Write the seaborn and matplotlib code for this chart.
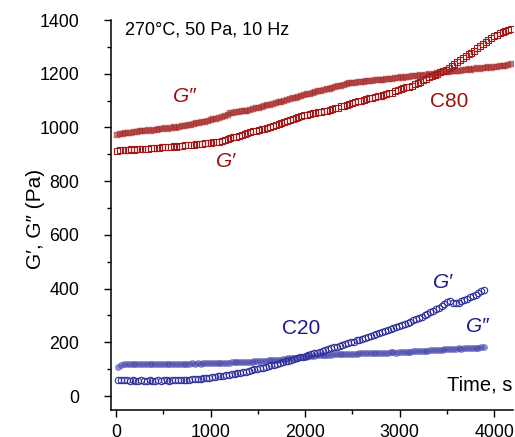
import numpy as np
import pandas as pd
import matplotlib
matplotlib.use('Agg')
import matplotlib.pyplot as plt
from matplotlib.ticker import MultipleLocator
import seaborn as sns

# ── data (Pa vs time, s) ───────────────────────────────────────────────────
time_c80 = np.arange(10, 4181, 30)   # sampling grid, C80
time_c20 = np.arange(25, 3896, 30)   # sampling grid, C20

c80_g2 = [  # G'' (filled squares)
    972, 976, 974, 978, 980, 979, 983, 982, 985, 987,
    986, 990, 988, 992, 991, 994, 993, 997, 995, 998,
    1000, 999, 1003, 1005, 1004, 1008, 1010, 1012, 1015, 1017,
    1019, 1022, 1024, 1027, 1030, 1033, 1036, 1040, 1044, 1048,
    1052, 1055, 1056, 1058, 1060, 1062, 1063, 1066, 1069, 1072,
    1074, 1077, 1079, 1082, 1084, 1088, 1090, 1093, 1095, 1099,
    1102, 1105, 1108, 1110, 1114, 1117, 1120, 1123, 1126, 1129,
    1132, 1135, 1137, 1140, 1142, 1145, 1148, 1150, 1153, 1156,
    1159, 1162, 1164, 1166, 1165, 1168, 1170, 1169, 1172, 1174,
    1173, 1176, 1175, 1178, 1177, 1180, 1179, 1182, 1184, 1183,
    1186, 1185, 1188, 1187, 1190, 1192, 1191, 1194, 1193, 1196,
    1198, 1197, 1200, 1202, 1204, 1206, 1205, 1208, 1210, 1209,
    1212, 1211, 1214, 1213, 1216, 1215, 1218, 1220, 1219, 1222,
    1221, 1224, 1223, 1226, 1225, 1228, 1230, 1229, 1232, 1235,
]
c80_g1 = [  # G' (open squares)
    914, 916, 915, 917, 916, 918, 917, 919, 920, 919,
    921, 920, 922, 924, 923, 925, 926, 928, 927, 929,
    930, 929, 932, 931, 933, 935, 934, 936, 938, 940,
    939, 941, 943, 942, 945, 947, 946, 950, 953, 956,
    960, 963, 965, 968, 971, 974, 978, 982, 985, 988,
    991, 994, 996, 999, 1003, 1006, 1010, 1014, 1018, 1022,
    1025, 1029, 1033, 1036, 1040, 1043, 1045, 1047, 1050, 1052,
    1054, 1056, 1059, 1061, 1063, 1065, 1068, 1071, 1074, 1078,
    1081, 1085, 1088, 1092, 1095, 1098, 1100, 1103, 1105, 1108,
    1111, 1113, 1116, 1118, 1121, 1124, 1127, 1130, 1134, 1138,
    1142, 1146, 1149, 1152, 1156, 1160, 1165, 1170, 1176, 1182,
    1187, 1192, 1196, 1200, 1205, 1210, 1215, 1222, 1230, 1238,
    1245, 1252, 1258, 1265, 1272, 1279, 1286, 1294, 1303, 1312,
    1320, 1327, 1333, 1339, 1345, 1350, 1355, 1359, 1364, 1368,
]
c20_g2 = [  # G'' (filled circles)
    108, 117, 119, 120, 119, 120, 119, 120, 120, 119,
    120, 119, 120, 120, 119, 120, 121, 120, 120, 121,
    120, 121, 121, 120, 121, 121, 122, 121, 122, 121,
    122, 122, 123, 122, 123, 123, 124, 123, 124, 124,
    125, 125, 126, 126, 127, 127, 128, 128, 129, 130,
    130, 131, 132, 133, 134, 135, 136, 136, 137, 139,
    140, 141, 142, 143, 144, 145, 147, 148, 149, 150,
    151, 152, 152, 153, 154, 154, 155, 155, 156, 156,
    157, 157, 158, 158, 158, 159, 159, 160, 160, 160,
    161, 161, 161, 162, 162, 162, 163, 163, 162, 163,
    164, 164, 165, 165, 166, 166, 167, 168, 168, 169,
    170, 171, 172, 173, 172, 174, 175, 174, 175, 176,
    177, 176, 177, 178, 178, 179, 179, 180, 181, 181,
]
c20_g1 = [  # G' (open circles)
    60, 59, 58, 58, 57, 58, 57, 57, 58, 57,
    57, 58, 57, 57, 58, 57, 58, 58, 57, 58,
    58, 59, 59, 60, 60, 61, 62, 63, 64, 65,
    66, 67, 68, 70, 71, 73, 74, 76, 78, 80,
    81, 83, 85, 87, 89, 91, 94, 96, 99, 101,
    104, 106, 109, 111, 114, 117, 120, 123, 126, 129,
    132, 135, 138, 141, 144, 147, 150, 153, 156, 159,
    162, 165, 168, 171, 175, 178, 181, 184, 187, 190,
    194, 197, 200, 203, 207, 210, 213, 217, 220, 224,
    227, 231, 234, 238, 241, 245, 249, 253, 257, 261,
    265, 269, 273, 277, 282, 286, 291, 296, 301, 306,
    312, 318, 323, 328, 336, 343, 350, 352, 348, 345,
    347, 352, 358, 363, 368, 373, 378, 384, 390, 396,
]

x_ticks = [0, 1000, 2000, 3000, 4000]
y_ticks = [0, 200, 400, 600, 800, 1000, 1200, 1400]

RED_TXT = '#9a1010'
RED_MK = '#a52828'
BLUE_TXT = '#1c1c8c'
BLUE_MK = '#4040a8'

sns.set_style('ticks')
plt.rcParams['font.family'] = ['Liberation Sans', 'DejaVu Sans']
plt.rcParams['text.color'] = 'black'
plt.rcParams['axes.labelcolor'] = 'black'
plt.rcParams['xtick.color'] = 'black'
plt.rcParams['ytick.color'] = 'black'

fig = plt.figure(figsize=(5.15, 4.37), dpi=100)
ax = fig.add_axes([0.2155, 0.0618, 0.7806, 0.8924])

df80 = pd.DataFrame({'t': time_c80, 'g1': c80_g1, 'g2': c80_g2})
df20 = pd.DataFrame({'t': time_c20, 'g1': c20_g1, 'g2': c20_g2})

# filled = G'', open = G'
sns.lineplot(data=df80, x='t', y='g2', ax=ax, estimator=None, sort=False,
             linestyle='', marker='s', markersize=4.6,
             markerfacecolor=matplotlib.colors.to_rgba(RED_MK, 0.62),
             markeredgecolor=matplotlib.colors.to_rgba(RED_MK, 0.62),
             markeredgewidth=0.3)
sns.lineplot(data=df80, x='t', y='g1', ax=ax, estimator=None, sort=False,
             linestyle='', marker='s', markersize=4.8,
             markerfacecolor='none', markeredgecolor='#a31818',
             markeredgewidth=0.8)
sns.lineplot(data=df20, x='t', y='g2', ax=ax, estimator=None, sort=False,
             linestyle='', marker='o', markersize=4.6,
             markerfacecolor=matplotlib.colors.to_rgba(BLUE_MK, 0.58),
             markeredgecolor=matplotlib.colors.to_rgba(BLUE_MK, 0.58),
             markeredgewidth=0.3)
sns.lineplot(data=df20, x='t', y='g1', ax=ax, estimator=None, sort=False,
             linestyle='', marker='o', markersize=4.6,
             markerfacecolor='none', markeredgecolor='#30309e',
             markeredgewidth=0.8)

ax.set_xlim(-53, 4200)
ax.set_ylim(-52, 1400)
ax.set_xticks(x_ticks)
ax.set_yticks(y_ticks)
ax.xaxis.set_minor_locator(MultipleLocator(500))
ax.yaxis.set_minor_locator(MultipleLocator(100))
ax.tick_params(which='major', direction='out', length=5, width=1,
               labelsize=12.8, color='black', labelcolor='black')
ax.tick_params(which='minor', direction='out', length=3, width=1, color='black')
ax.tick_params(axis='y', which='major', pad=18)
ax.tick_params(axis='x', which='major', pad=5)
sns.despine(ax=ax)
for side in ['left', 'bottom']:
    ax.spines[side].set_linewidth(1.1)
    ax.spines[side].set_color('black')

ax.set_xlabel('')
ax.set_ylabel('G\u2032, G\u2033 (Pa)', fontsize=15, color='black')
ax.yaxis.set_label_coords(-0.165, 0.49)

ax.text(0.035, 0.974, '270\u00b0C, 50 Pa, 10 Hz', transform=ax.transAxes,
        ha='left', va='center', fontsize=13)
ax.text(0.998, 0.064, 'Time, s', transform=ax.transAxes,
        ha='right', va='center', fontsize=14.5)
ax.text(0.841, 0.790, 'C80', transform=ax.transAxes, ha='center',
        va='center', fontsize=15, color=RED_TXT)
ax.text(0.473, 0.210, 'C20', transform=ax.transAxes, ha='center',
        va='center', fontsize=15, color=BLUE_TXT)
ax.text(0.184, 0.805, 'G\u2033', transform=ax.transAxes, ha='center',
        va='center', fontsize=15, style='italic', color=RED_TXT)
ax.text(0.286, 0.638, 'G\u2032', transform=ax.transAxes, ha='center',
        va='center', fontsize=15, style='italic', color=RED_TXT)
ax.text(0.826, 0.326, 'G\u2032', transform=ax.transAxes, ha='center',
        va='center', fontsize=15, style='italic', color=BLUE_TXT)
ax.text(0.913, 0.213, 'G\u2033', transform=ax.transAxes, ha='center',
        va='center', fontsize=15, style='italic', color=BLUE_TXT)

fig.savefig('out.png', dpi=100)
